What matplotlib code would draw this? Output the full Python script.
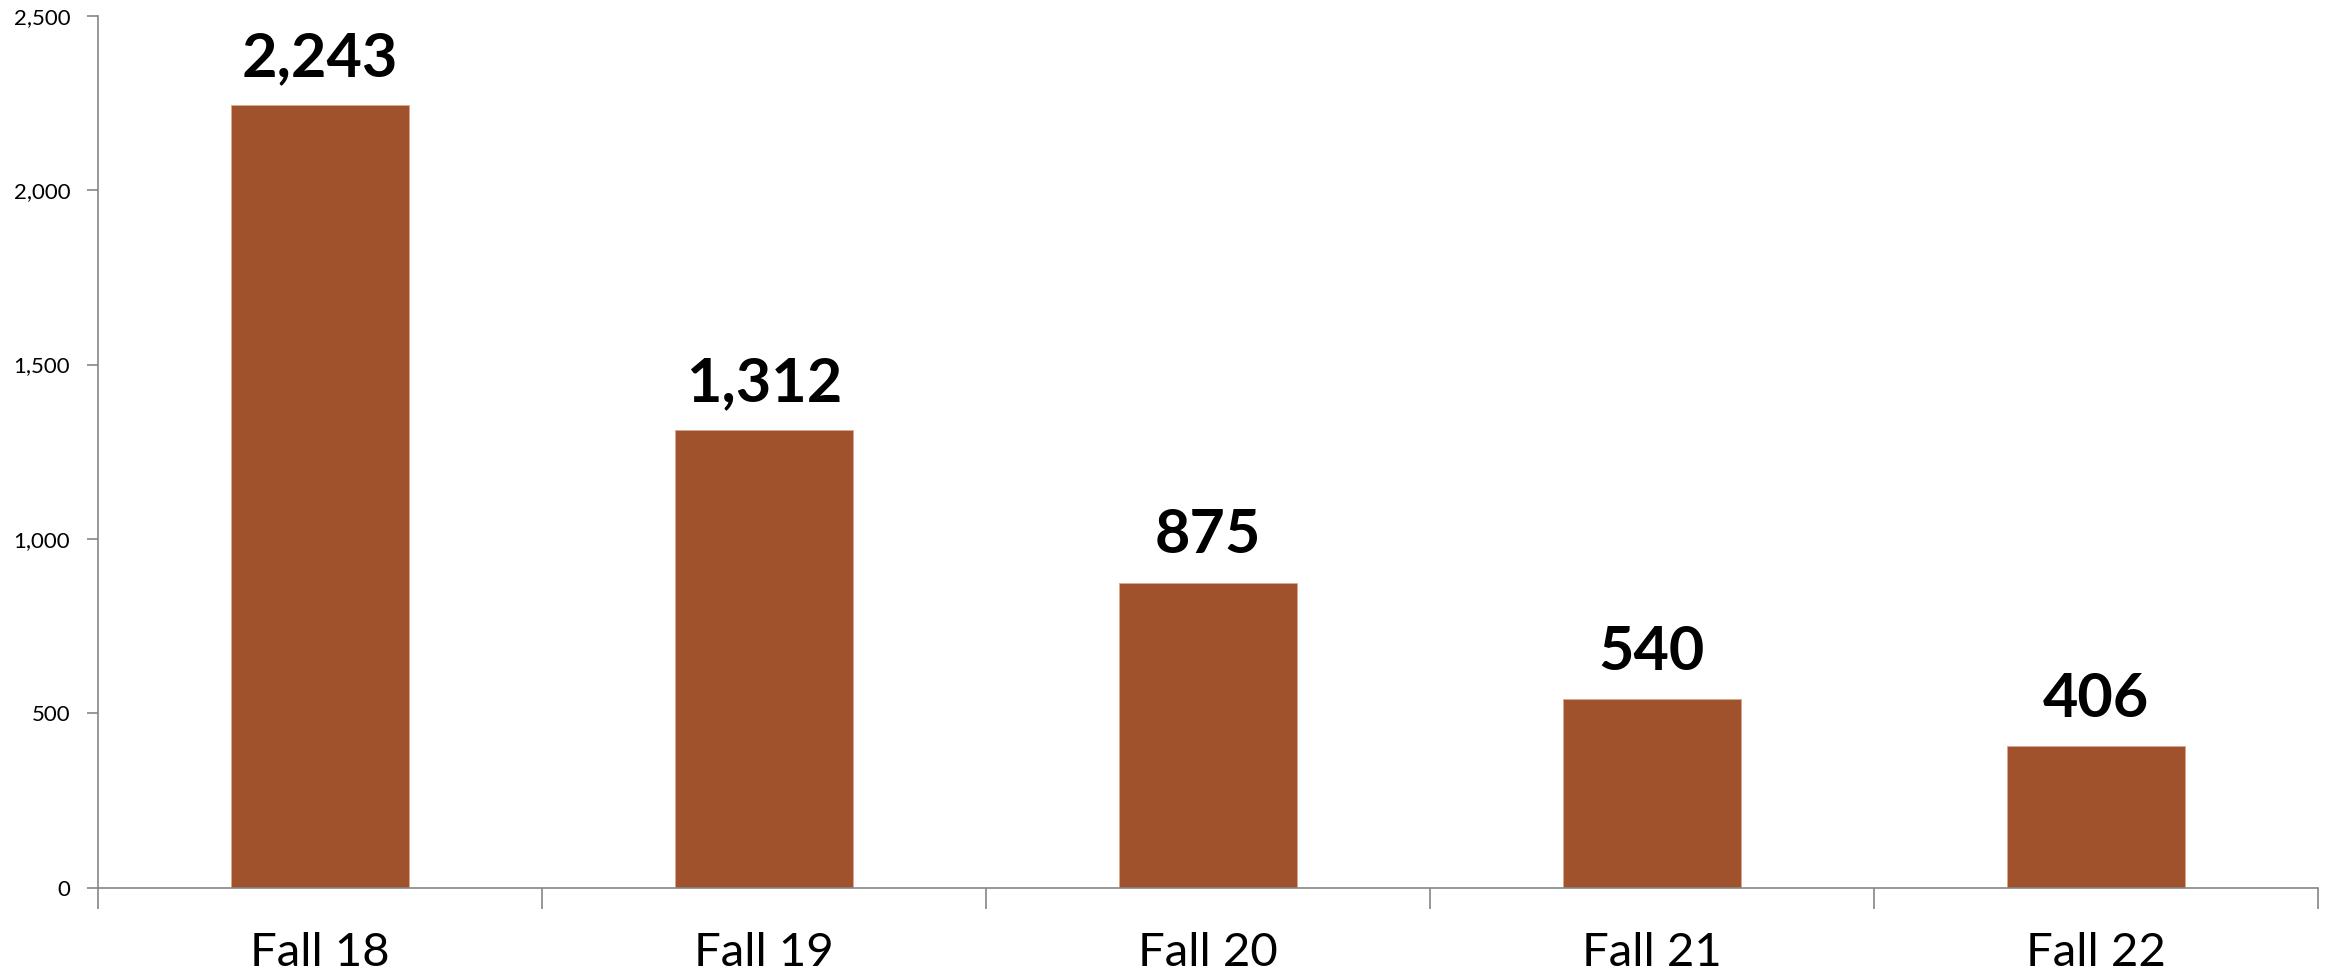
import numpy as np
import matplotlib
matplotlib.use("Agg")
import matplotlib.pyplot as plt
from matplotlib.ticker import FuncFormatter

# Daten
terms = ["Fall 18", "Fall 19", "Fall 20", "Fall 21", "Fall 22"]
counts = [2243, 1312, 875, 540, 406]

bar_color = "#A0522D"
axis_grey = "#868686"

plt.rcParams['font.family'] = ['Lato', 'DejaVu Sans']

fig = plt.figure(figsize=(23.33, 9.8), dpi=100)
ax = fig.add_axes([0.042, 0.094, 0.9515, 0.89])

x = np.arange(len(terms))
bars = ax.bar(x, counts, width=0.4, color=bar_color, edgecolor="#D9A98A", linewidth=0.6)

for b, v in zip(bars, counts):
    ax.annotate(f"{v:,}", (b.get_x() + b.get_width()/2, v),
                xytext=(0, 14), textcoords="offset points",
                ha="center", va="bottom", fontsize=44, fontweight="bold")

ax.set_xlim(-0.5, len(terms) - 0.5)
ax.set_ylim(0, 2500)
ax.set_yticks(np.arange(0, 2501, 500))
ax.yaxis.set_major_formatter(FuncFormatter(lambda v, p: f"{int(v):,}"))

# Ticks an den Kategoriegrenzen, Beschriftung in der Mitte
ax.set_xticks(np.arange(-0.5, len(terms), 1.0))
ax.set_xticklabels([])
ax.set_xticks(x, minor=True)
ax.set_xticklabels(terms, minor=True, fontsize=34)
ax.tick_params(axis="x", which="major", length=15, width=1.2, color=axis_grey)
ax.tick_params(axis="x", which="minor", length=0, pad=32)
ax.tick_params(axis="y", length=8, width=1.2, color=axis_grey, labelsize=16, pad=12)

for s in ["top", "right"]:
    ax.spines[s].set_visible(False)
for s in ["left", "bottom"]:
    ax.spines[s].set_color(axis_grey)
    ax.spines[s].set_linewidth(1.2)

fig.savefig("out.png", dpi=100)
